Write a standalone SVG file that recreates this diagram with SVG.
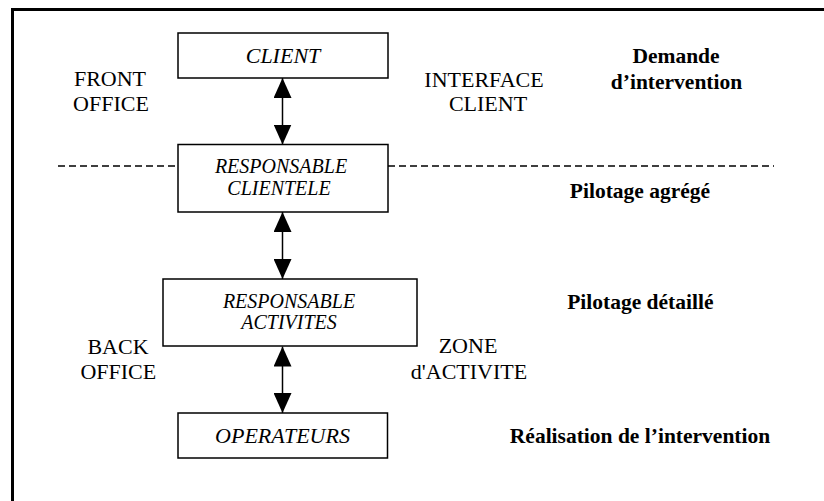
<svg xmlns="http://www.w3.org/2000/svg" width="824" height="501" viewBox="0 0 824 501">
<defs>
<marker id="ah" viewBox="0 0 20 18" refX="20" refY="9" markerWidth="20" markerHeight="18" markerUnits="userSpaceOnUse" orient="auto-start-reverse">
<path d="M0,0 L20,9 L0,18 Z" fill="#000"/>
</marker>
</defs>
<style>
.box{fill:#fff;stroke:#000;stroke-width:1.5}
.nt{font-family:"Liberation Serif","Times New Roman",serif;font-style:italic;fill:#000;text-anchor:middle}
.lb{font-family:"Liberation Serif","Times New Roman",serif;font-size:22px;fill:#000;text-anchor:middle}
.bd{font-family:"Liberation Serif","Times New Roman",serif;font-size:21.5px;font-weight:bold;fill:#000;text-anchor:middle}
.cn{stroke:#000;stroke-width:1.5;fill:none}
.dash{stroke:#000;stroke-width:1.3;stroke-dasharray:7 4;fill:none}
</style>
<rect width="824" height="501" fill="#fff"/>
<path d="M12.5,501 V9.5 H824" fill="none" stroke="#000" stroke-width="3"/>
<g id="separator">
<line class="dash" x1="58" y1="166" x2="178" y2="166"/>
<line class="dash" x1="388" y1="166" x2="774" y2="166"/>
</g>
<g id="connectors">
<line class="cn" x1="282.5" y1="78" x2="282.5" y2="144.5" marker-start="url(#ah)" marker-end="url(#ah)"/>
<line class="cn" x1="282.5" y1="212" x2="282.5" y2="279" marker-start="url(#ah)" marker-end="url(#ah)"/>
<line class="cn" x1="282.5" y1="346.5" x2="282.5" y2="413" marker-start="url(#ah)" marker-end="url(#ah)"/>
</g>
<g id="client">
<rect class="box" x="178" y="33" width="210" height="45"/>
<text class="nt" x="283" y="62.7" font-size="22">CLIENT</text>
</g>
<g id="responsable-clientele">
<rect class="box" x="178" y="144.5" width="210" height="67.5"/>
<text class="nt" x="281" y="173.3" font-size="20">RESPONSABLE</text>
<text class="nt" x="279" y="195" font-size="20">CLIENTELE</text>
</g>
<g id="responsable-activites">
<rect class="box" x="163" y="279" width="254" height="67"/>
<text class="nt" x="289" y="307.7" font-size="20">RESPONSABLE</text>
<text class="nt" x="289" y="329.3" font-size="20">ACTIVITES</text>
</g>
<g id="operateurs">
<rect class="box" x="178" y="413" width="209.5" height="45"/>
<text class="nt" x="282.5" y="443.3" font-size="22">OPERATEURS</text>
</g>
<g id="labels">
<text class="lb" x="110" y="85.7">FRONT</text>
<text class="lb" x="111" y="111">OFFICE</text>
<text class="lb" x="484" y="86.7">INTERFACE</text>
<text class="lb" x="488" y="111">CLIENT</text>
<text class="lb" x="118" y="354">BACK</text>
<text class="lb" x="118.3" y="379.3">OFFICE</text>
<text class="lb" x="468" y="353.3">ZONE</text>
<text class="lb" x="469" y="379">d'ACTIVITE</text>
<text class="bd" x="676" y="63.3">Demande</text>
<text class="bd" x="676.5" y="89.3">d’intervention</text>
<text class="bd" x="640" y="197.7">Pilotage agrégé</text>
<text class="bd" x="640.3" y="309.3">Pilotage détaillé</text>
<text class="bd" x="640" y="443.3">Réalisation de l’intervention</text>
</g>
</svg>
